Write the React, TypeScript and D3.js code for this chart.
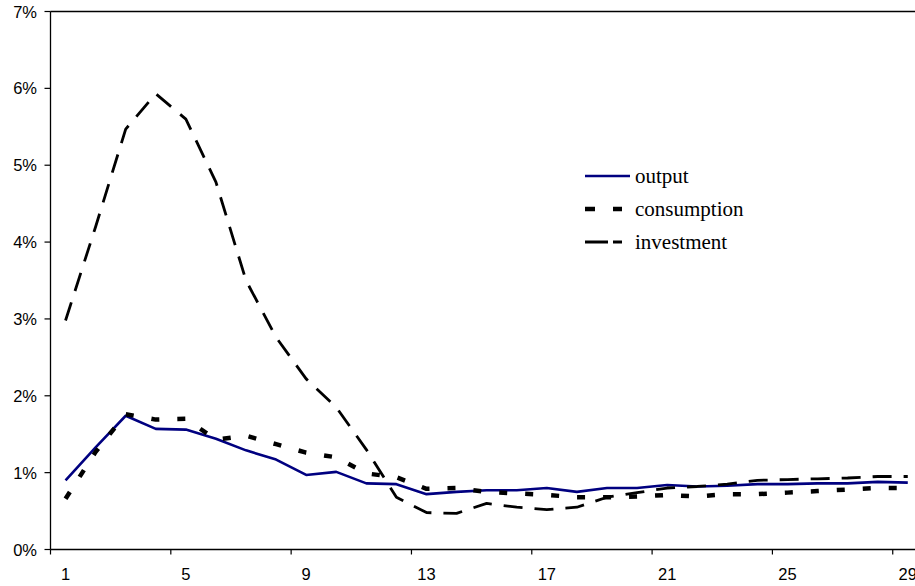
import React from "react";
import * as d3 from "d3";

const categories = Array.from({ length: 30 }, (_, i) => i + 1);
const periods = categories.slice(0, 29);
const output = [0.90, 1.33, 1.74, 1.57, 1.56, 1.44, 1.29, 1.17, 0.97, 1.01, 0.86, 0.85, 0.72, 0.75, 0.77, 0.77, 0.80, 0.75, 0.80, 0.80, 0.84, 0.82, 0.83, 0.85, 0.85, 0.86, 0.86, 0.88, 0.87];
const consumption = [0.66, 1.27, 1.76, 1.69, 1.70, 1.43, 1.48, 1.37, 1.26, 1.20, 0.99, 0.94, 0.79, 0.80, 0.75, 0.73, 0.71, 0.68, 0.68, 0.69, 0.71, 0.69, 0.72, 0.72, 0.74, 0.76, 0.78, 0.80, 0.80];
const investment = [2.98, 4.20, 5.47, 5.93, 5.60, 4.78, 3.50, 2.76, 2.22, 1.85, 1.30, 0.68, 0.48, 0.47, 0.60, 0.55, 0.52, 0.55, 0.68, 0.74, 0.80, 0.82, 0.85, 0.90, 0.91, 0.92, 0.93, 0.95, 0.95];
const yTicks = [0, 1, 2, 3, 4, 5, 6, 7];
const xTickLabels = [1, 5, 9, 13, 17, 21, 25, 29];

const series = [
  { name: "output", values: output, color: "#000080", width: 2.6, dash: "none", legendDash: "none" },
  { name: "consumption", values: consumption, color: "#000000", width: 4.5, dash: "8 18", legendDash: "10 18" },
  { name: "investment", values: investment, color: "#000000", width: 2.8, dash: "19 12", legendDash: "23 5" },
];

export default function App() {
  const W = 915, H = 586;
  const left = 50.5, top = 11.5, bottom = 549.5;
  const band = 30.08;
  const x = d3.scaleBand<number>().domain(categories).range([left, left + band * categories.length]).paddingInner(0).paddingOuter(0);
  const y = d3.scaleLinear().domain([0, 7]).range([bottom, top]);
  const cx = (c: number) => (x(c) as number) + x.bandwidth() / 2;
  const line = d3.line<number>().x((_, i) => cx(periods[i])).y((v) => y(v));
  const right = left + band * categories.length;

  const legendX = 585, legendBase = [183, 216, 249];

  return (
    <svg width={W} height={H} style={{ position: "absolute", left: 0, top: 0, background: "#fff" }}>
      <defs>
        <clipPath id="plotclip">
          <rect x={left} y={top - 5} width={right - left} height={bottom - top + 10} />
        </clipPath>
      </defs>
      <rect x={0} y={0} width={W} height={H} fill="#fff" />
      {/* plot border top */}
      <line x1={left} x2={right} y1={top} y2={top} stroke="#000" strokeWidth={1.3} />
      {/* y axis */}
      <line x1={left} x2={left} y1={top} y2={bottom} stroke="#000" strokeWidth={1.3} />
      {yTicks.map((t) => (
        <g key={t}>
          <line x1={left - 6} x2={left} y1={y(t)} y2={y(t)} stroke="#000" strokeWidth={1.2} />
          <text x={37} y={y(t) + 6} textAnchor="end" fontFamily="Liberation Sans, Arial, sans-serif" fontSize={16.5} fill="#000">
            {t + "%"}
          </text>
        </g>
      ))}
      {/* x axis */}
      <line x1={left} x2={right} y1={bottom} y2={bottom} stroke="#000" strokeWidth={1.3} />
      {xTickLabels.map((c) => (
        <g key={c}>
          <line x1={x(c) as number} x2={x(c) as number} y1={bottom} y2={bottom + 5} stroke="#000" strokeWidth={1.2} />
          <text x={cx(c)} y={580} textAnchor="middle" fontFamily="Liberation Sans, Arial, sans-serif" fontSize={16.5} fill="#000">
            {c}
          </text>
        </g>
      ))}
      <g clipPath="url(#plotclip)">
        {series.map((s) => (
          <path key={s.name} d={line(s.values) as string} fill="none" stroke={s.color} strokeWidth={s.width}
            strokeDasharray={s.dash === "none" ? undefined : s.dash} strokeLinejoin="round" />
        ))}
      </g>
      {series.map((s, i) => (
        <g key={s.name}>
          <line x1={legendX} x2={s.dash === "none" ? 630 : 622} y1={legendBase[i] - 7} y2={legendBase[i] - 7}
            stroke={s.color} strokeWidth={s.width} strokeDasharray={s.legendDash === "none" ? undefined : s.legendDash} />
          <text x={635} y={legendBase[i]} fontFamily="Liberation Serif, Times New Roman, serif" fontSize={21} fill="#000">
            {s.name}
          </text>
        </g>
      ))}
    </svg>
  );
}
